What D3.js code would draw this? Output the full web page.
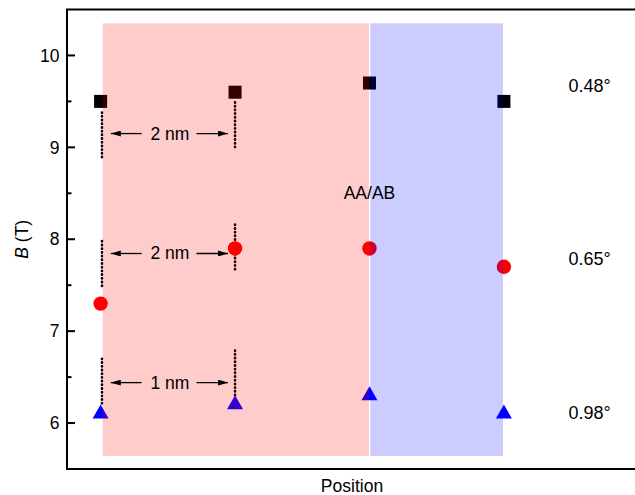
<!DOCTYPE html>
<html>
<head>
<meta charset="utf-8">
<script src="https://cdn.jsdelivr.net/npm/d3@7"></script>
<style>
  html, body { margin: 0; padding: 0; background: #fff; }
  svg { display: block; font-family: "Liberation Sans", Arial, sans-serif; }
</style>
</head>
<body>
<svg id="chart" width="635" height="495"></svg>
<script>
const positions = [0, 1, 2, 3];
const squareB = [9.5, 9.6, 9.7, 9.5];
const circleB = [7.3, 7.9, 7.9, 7.7];
const triangleB = [6.1, 6.2, 6.3, 6.1];
const angleLabels = [
  { text: "0.48°", y: 9.67 },
  { text: "0.65°", y: 7.79 },
  { text: "0.98°", y: 6.12 }
];
const regions = [
  { x0: 0.015, x1: 1.996, color: "#ff0000" },
  { x0: 2.006, x1: 2.993, color: "#0000ff" }
];
const dottedLines = [
  { x: 0.01, y0: 9.38, y1: 8.88 },
  { x: 1.0, y0: 9.49, y1: 8.97 },
  { x: 0.01, y0: 7.98, y1: 7.46 },
  { x: 1.0, y0: 8.16, y1: 7.64 },
  { x: 0.01, y0: 6.70, y1: 6.20 },
  { x: 1.0, y0: 6.79, y1: 6.28 }
];
const spacings = [
  { label: "2 nm", y: 9.15 },
  { label: "2 nm", y: 7.845 },
  { label: "1 nm", y: 6.44 }
];
const majorTicks = [6, 7, 8, 9, 10];
const minorTicks = [6.5, 7.5, 8.5, 9.5];

const svg = d3.select("#chart");
const m = { left: 67, right: 637, top: 9.5, bottom: 469 };
const x = d3.scaleLinear().domain([-0.25, 3.99]).range([m.left, m.right]);
const y = d3.scaleLinear().domain([5.5, 10.5]).range([m.bottom, m.top]);
const fontSize = 17.5;

svg.append("defs").append("marker")
  .attr("id", "head")
  .attr("viewBox", "0 0 10 6")
  .attr("refX", 10).attr("refY", 3)
  .attr("markerWidth", 10).attr("markerHeight", 6)
  .attr("markerUnits", "userSpaceOnUse")
  .attr("orient", "auto")
  .append("path").attr("d", "M0,0L10,3L0,6Z").attr("fill", "#000");

// dotted guides
svg.selectAll("line.dots").data(dottedLines).enter().append("line")
  .attr("class", "dots")
  .attr("x1", (d) => x(d.x)).attr("x2", (d) => x(d.x))
  .attr("y1", (d) => y(d.y0)).attr("y2", (d) => y(d.y1))
  .attr("stroke", "#000").attr("stroke-width", 2.6)
  .attr("stroke-linecap", "round").attr("stroke-dasharray", "0.4 3.3");

// markers
const tri = "M0,-9.3L8,4.7L-8,4.7Z";
svg.selectAll("rect.sq").data(positions).enter().append("rect")
  .attr("class", "sq")
  .attr("x", (d) => x(d) - 6.5).attr("y", (d, i) => y(squareB[i]) - 6.5)
  .attr("width", 13).attr("height", 13).attr("fill", "#000");
svg.selectAll("circle.ci").data(positions).enter().append("circle")
  .attr("class", "ci")
  .attr("cx", (d) => x(d)).attr("cy", (d, i) => y(circleB[i]))
  .attr("r", 7.2).attr("fill", "#ff0000");
svg.selectAll("path.tr").data(positions).enter().append("path")
  .attr("class", "tr")
  .attr("d", tri)
  .attr("transform", (d, i) => `translate(${x(d)},${y(triangleB[i])})`)
  .attr("fill", "#0000ff");

// shaded regions (over the markers)
svg.selectAll("rect.region").data(regions).enter().append("rect")
  .attr("class", "region")
  .attr("x", (d) => x(d.x0)).attr("width", (d) => x(d.x1) - x(d.x0))
  .attr("y", y(10.35)).attr("height", y(5.64) - y(10.35))
  .attr("fill", (d) => d.color).attr("fill-opacity", 0.2);

// spacing arrows
spacings.forEach((s) => {
  const yy = y(s.y);
  svg.append("line").attr("x1", x(0.305)).attr("x2", x(0.076)).attr("y1", yy).attr("y2", yy)
    .attr("stroke", "#000").attr("stroke-width", 1.3).attr("marker-end", "url(#head)");
  svg.append("line").attr("x1", x(0.713)).attr("x2", x(0.948)).attr("y1", yy).attr("y2", yy)
    .attr("stroke", "#000").attr("stroke-width", 1.3).attr("marker-end", "url(#head)");
  svg.append("text").attr("x", x(0.515)).attr("y", yy + 6).attr("text-anchor", "middle")
    .attr("font-size", fontSize).text(s.label);
});

svg.append("text").attr("x", x(2.0)).attr("y", y(8.44)).attr("text-anchor", "middle")
  .attr("font-size", fontSize).text("AA/AB");

svg.selectAll("text.angle").data(angleLabels).enter().append("text")
  .attr("class", "angle")
  .attr("x", x(3.48)).attr("y", (d) => y(d.y) + 6.5)
  .attr("font-size", 18).text((d) => d.text);

// frame and axis
svg.append("rect").attr("x", m.left).attr("y", m.top).attr("width", m.right - m.left).attr("height", m.bottom - m.top)
  .attr("fill", "none").attr("stroke", "#000").attr("stroke-width", 2);

svg.selectAll("line.major").data(majorTicks).enter().append("line")
  .attr("x1", m.left).attr("x2", m.left + 8).attr("y1", (d) => y(d)).attr("y2", (d) => y(d))
  .attr("stroke", "#000").attr("stroke-width", 2);
svg.selectAll("line.minor").data(minorTicks).enter().append("line")
  .attr("x1", m.left).attr("x2", m.left + 4.5).attr("y1", (d) => y(d)).attr("y2", (d) => y(d))
  .attr("stroke", "#000").attr("stroke-width", 2);
svg.selectAll("text.tick").data(majorTicks).enter().append("text")
  .attr("x", m.left - 7.5).attr("y", (d) => y(d) + 6.2).attr("text-anchor", "end")
  .attr("font-size", fontSize).text((d) => d);

svg.append("text").attr("x", (m.left + m.right) / 2).attr("y", 491.7).attr("text-anchor", "middle")
  .attr("font-size", fontSize).text("Position");

const yLabel = svg.append("text")
  .attr("transform", `translate(28,${(m.top + m.bottom) / 2}) rotate(-90)`)
  .attr("text-anchor", "middle").attr("font-size", fontSize);
yLabel.append("tspan").attr("font-style", "italic").text("B");
yLabel.append("tspan").text(" (T)");
</script>
</body>
</html>
